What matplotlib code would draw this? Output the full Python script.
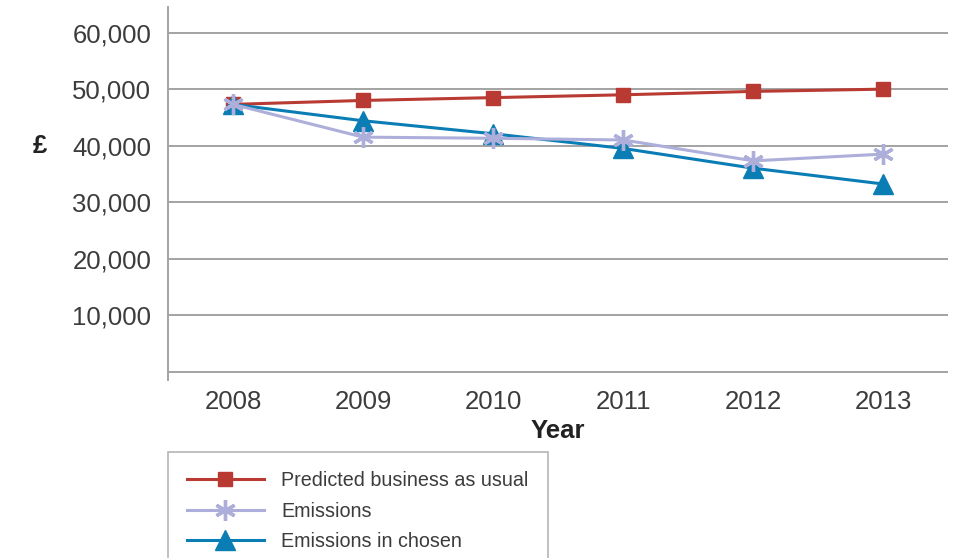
import matplotlib.pyplot as plt

plt.rcParams['font.family'] = ['Liberation Sans', 'DejaVu Sans']

years = ['2008', '2009', '2010', '2011', '2012', '2013']
business_as_usual = [47300, 48000, 48500, 49000, 49600, 50000]
emissions = [47300, 41500, 41300, 41000, 37300, 38500]
emissions_chosen = [47300, 44400, 42100, 39500, 36000, 33200]
y_ticks = [10000, 20000, 30000, 40000, 50000, 60000]

red = '#b83a32'
lilac = '#aeaedb'
blue = '#0a7db5'
grid_grey = '#a3a3a3'
text_grey = '#3c3c3c'

fig = plt.figure(figsize=(9.6, 5.58), dpi=100)
ax = fig.add_axes([0.175, 0.319, 0.813, 0.668])

x = list(range(len(years)))

# horizontal guide lines, including the zero line
for v in [0] + y_ticks:
    ax.axhline(v, color=grid_grey, lw=1.4, zorder=1)

ax.plot(x, business_as_usual, color=red, lw=2.2, marker='s', markersize=10,
        label='Predicted business as usual', zorder=3)
ax.plot(x, emissions, color=lilac, lw=2.2, marker=(6, 2, 0), markersize=15,
        markeredgewidth=2.4, markeredgecolor=lilac, label='Emissions', zorder=4)
ax.plot(x, emissions_chosen, color=blue, lw=2.2, marker='^', markersize=15,
        label='Emissions in chosen', zorder=3)

ax.set_xlim(-0.5, 5.5)
ax.set_ylim(-1500, 64500)
ax.set_xticks(x)
ax.set_xticklabels(years)
ax.set_yticks(y_ticks)
ax.set_yticklabels([f'{v:,}' for v in y_ticks])
ax.tick_params(length=0, labelsize=18.5, colors=text_grey, pad=7)
ax.tick_params(axis='y', pad=12)

for side in ['top', 'right', 'bottom']:
    ax.spines[side].set_visible(False)
ax.spines['left'].set_color(grid_grey)
ax.spines['left'].set_linewidth(1.4)

ax.set_xlabel('Year', fontsize=18.5, fontweight='bold', color='#222222', labelpad=4)
fig.text(40 / 960, 1 - 146 / 558, '£', fontsize=18.5, fontweight='bold',
         color='#222222', ha='center', va='center')

leg = fig.legend(loc='upper left', bbox_to_anchor=(168 / 960, 1 - 452 / 558),
                 fontsize=14.2, frameon=True, fancybox=False, handlelength=3.9,
                 borderpad=0.95, labelspacing=0.6, handletextpad=0.9,
                 borderaxespad=0)
leg.get_frame().set_edgecolor(grid_grey)
leg.get_frame().set_linewidth(1.2)
for t in leg.get_texts():
    t.set_color(text_grey)

fig.savefig('out.png', dpi=100)
